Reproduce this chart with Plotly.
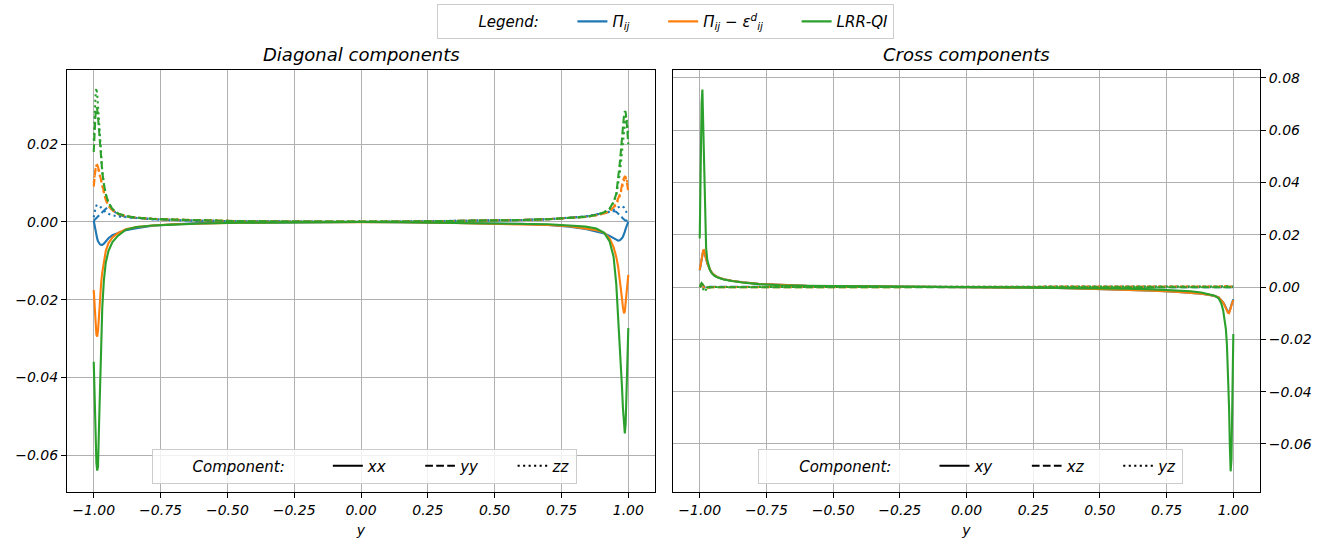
import plotly.graph_objects as go

# ---------------- data ----------------
y_grid = [-1.0, -0.997, -0.993, -0.99, -0.987, -0.984, -0.98, -0.976, -0.972, -0.968,
          -0.962, -0.955, -0.945, -0.93, -0.91, -0.88, -0.84, -0.78, -0.7, -0.6,
          -0.45, -0.3, -0.15, 0.0,
          0.15, 0.3, 0.45, 0.6, 0.7, 0.78, 0.84, 0.88, 0.91, 0.93, 0.945, 0.955,
          0.962, 0.968, 0.972, 0.976, 0.98, 0.984, 0.987, 0.99, 0.993, 0.997, 1.0]

# Diagonal components
pi_xx = [0.0003, -0.0010, -0.0025, -0.0035, -0.0043, -0.0050, -0.0055, -0.0058, -0.0059, -0.0059,
         -0.0056, -0.0050, -0.0042, -0.0034, -0.0028, -0.0021, -0.0016, -0.0010, -0.0006, -0.0003,
         -0.0002, -0.0001, -0.00005, 0.0,
         -0.0001, -0.0002, -0.0003, -0.0005, -0.0008, -0.0012, -0.0018, -0.0024, -0.0030, -0.0036,
         -0.0042, -0.0047, -0.0048, -0.0047, -0.0045, -0.0042, -0.0038, -0.0032, -0.0025, -0.0018,
         -0.0010, -0.0003, 0.0001]
pi_yy = [0.0003, 0.0005, 0.0008, 0.0010, 0.0012, 0.0014, 0.0017, 0.0020, 0.0023, 0.0026,
         0.0030, 0.0034, 0.0038, 0.0032, 0.0019, 0.0013, 0.0010, 0.0007, 0.0005, 0.0003,
         0.0002, 0.0001, 0.00005, 0.0,
         0.0001, 0.0002, 0.0003, 0.0005, 0.0007, 0.0010, 0.0014, 0.0019, 0.0024, 0.0027,
         0.0028, 0.0026, 0.0022, 0.0018, 0.0015, 0.0012, 0.0009, 0.0006, 0.0004, 0.0003,
         0.0003, 0.0004, 0.0005]
pi_zz = [0.0012, 0.0025, 0.0037, 0.0042, 0.0044, 0.0044, 0.0042, 0.0039, 0.0036, 0.0033,
         0.0029, 0.0025, 0.0021, 0.0017, 0.0014, 0.0012, 0.0010, 0.0007, 0.0005, 0.0003,
         0.0002, 0.0001, 0.00005, 0.0,
         0.0001, 0.0002, 0.0003, 0.0005, 0.0007, 0.0010, 0.0014, 0.0019, 0.0023, 0.0027,
         0.0031, 0.0035, 0.0038, 0.0040, 0.0041, 0.0041, 0.0040, 0.0037, 0.0033, 0.0028,
         0.0023, 0.0019, 0.0016]

pid_xx = [-0.0175, -0.021, -0.026, -0.029, -0.0295, -0.028, -0.024, -0.019, -0.0155, -0.013,
          -0.010, -0.0075, -0.0055, -0.0040, -0.0029, -0.0019, -0.0013, -0.0009, -0.0006, -0.0004,
          -0.0002, -0.0001, -0.00005, 0.0,
          -0.0001, -0.0002, -0.0004, -0.0006, -0.0008, -0.0011, -0.0016, -0.0021, -0.0028, -0.0042,
          -0.0065, -0.0090, -0.0115, -0.0145, -0.0170, -0.0195, -0.0220, -0.0235, -0.0230, -0.0210,
          -0.0180, -0.0150, -0.0136]
pid_yy = [0.0091, 0.0115, 0.0138, 0.0146, 0.0147, 0.0142, 0.0130, 0.0115, 0.0100, 0.0088,
          0.0072, 0.0057, 0.0042, 0.0030, 0.0021, 0.0015, 0.0011, 0.0008, 0.0006, 0.0004,
          0.0002, 0.0001, 0.00005, 0.0,
          0.0001, 0.0002, 0.0003, 0.0005, 0.0007, 0.0010, 0.0013, 0.0017, 0.0022, 0.0028,
          0.0038, 0.0048, 0.0058, 0.0070, 0.0080, 0.0095, 0.0106, 0.0114, 0.0117, 0.0116,
          0.0108, 0.0092, 0.0075]
pid_zz = [0.0100, 0.0125, 0.0140, 0.0145, 0.0143, 0.0138, 0.0127, 0.0113, 0.0099, 0.0087,
          0.0071, 0.0056, 0.0042, 0.0030, 0.0021, 0.0015, 0.0011, 0.0008, 0.0006, 0.0004,
          0.0002, 0.0001, 0.00005, 0.0,
          0.0001, 0.0002, 0.0003, 0.0005, 0.0007, 0.0010, 0.0013, 0.0017, 0.0022, 0.0028,
          0.0036, 0.0045, 0.0055, 0.0066, 0.0076, 0.0088, 0.0099, 0.0107, 0.0111, 0.0112,
          0.0109, 0.0102, 0.0095]

lrr_xx = [-0.036, -0.045, -0.056, -0.062, -0.064, -0.063, -0.052, -0.040, -0.030, -0.022,
          -0.015, -0.0105, -0.0075, -0.0052, -0.0036, -0.0020, -0.0013, -0.0009, -0.0007, -0.0004,
          -0.0002, -0.0001, -0.00005, 0.0,
          -0.0001, -0.0002, -0.0003, -0.0005, -0.0006, -0.0009, -0.0012, -0.0017, -0.0028, -0.0050,
          -0.0090, -0.0160, -0.0240, -0.0310, -0.0360, -0.0420, -0.0480, -0.0530, -0.0544, -0.0520,
          -0.0450, -0.0350, -0.0273]
lrr_yy = [0.018, 0.024, 0.028, 0.0295, 0.029, 0.027, 0.023, 0.019, 0.0155, 0.0128,
          0.0098, 0.0072, 0.0050, 0.0033, 0.0022, 0.0015, 0.0011, 0.0008, 0.0006, 0.0004,
          0.0002, 0.0001, 0.00005, 0.0,
          0.0001, 0.0002, 0.0003, 0.0005, 0.0007, 0.0010, 0.0013, 0.0018, 0.0025, 0.0034,
          0.0052, 0.0072, 0.0110, 0.0150, 0.0180, 0.0215, 0.0250, 0.0275, 0.0285, 0.0283,
          0.0265, 0.0230, 0.0200]
lrr_zz = [0.021, 0.028, 0.033, 0.0345, 0.033, 0.030, 0.025, 0.020, 0.016, 0.013,
          0.0098, 0.0072, 0.0050, 0.0033, 0.0022, 0.0015, 0.0011, 0.0008, 0.0006, 0.0004,
          0.0002, 0.0001, 0.00005, 0.0,
          0.0001, 0.0002, 0.0003, 0.0005, 0.0007, 0.0010, 0.0013, 0.0018, 0.0025, 0.0034,
          0.0050, 0.0068, 0.0095, 0.0125, 0.0150, 0.0180, 0.0215, 0.0245, 0.0262, 0.0272,
          0.0270, 0.0250, 0.0225]

# Cross components
pi_xy = [0.0064, 0.0084, 0.0113, 0.0131, 0.0138, 0.0139, 0.0127, 0.0107, 0.0091, 0.0079,
         0.0067, 0.0055, 0.0045, 0.0036, 0.0030, 0.0024, 0.0018, 0.0012, 0.0008, 0.0005,
         0.0003, 0.0002, 0.0001, 0.0,
         -0.0001, -0.0003, -0.0006, -0.0010, -0.0014, -0.0018, -0.0022, -0.0026, -0.0030, -0.0034,
         -0.0040, -0.0049, -0.0059, -0.0070, -0.0080, -0.0089, -0.0096, -0.0097, -0.0090, -0.0079,
         -0.0067, -0.0055, -0.0047]
pi_xz = [0.0, 0.0006, 0.0010, 0.0008, 0.0004, 0.0001, -0.0001, -0.0001, 0.0, 0.0,
         0.0001, 0.0001, 0.0001, 0.0001, 0.0001, 0.0, 0.0, 0.0, 0.0, 0.0,
         0.0, 0.0, 0.0, 0.0,
         0.0, 0.0, 0.0, 0.0, 0.0, 0.0, 0.0, 0.0, 0.0, 0.0,
         0.0001, 0.0001, 0.0001, 0.0001, 0.0001, 0.0001, 0.0001, 0.0001, 0.0, 0.0,
         -0.0001, -0.0001, -0.0001]
pi_yz = [0.0, 0.0004, 0.0008, 0.0006, 0.0001, -0.0004, -0.0006, -0.0005, -0.0003, -0.0002,
         -0.0001, 0.0, 0.0, 0.0, 0.0, 0.0, 0.0, 0.0, 0.0, 0.0,
         0.0, 0.0, 0.0, 0.0,
         0.0, 0.0, 0.0, 0.0, 0.0, 0.0, 0.0, 0.0, 0.0, 0.0001,
         0.0001, 0.0002, 0.0002, 0.0002, 0.0003, 0.0003, 0.0003, 0.0003, 0.0003, 0.0002,
         0.0002, 0.0001, 0.0001]

pid_xy = [0.0065, 0.0085, 0.0115, 0.0133, 0.0140, 0.0141, 0.0128, 0.0108, 0.0092, 0.0080,
          0.0068, 0.0056, 0.0045, 0.0036, 0.0030, 0.0024, 0.0018, 0.0012, 0.0008, 0.0005,
          0.0003, 0.0002, 0.0001, 0.0,
          -0.0001, -0.0003, -0.0006, -0.0010, -0.0014, -0.0018, -0.0022, -0.0026, -0.0030, -0.0034,
          -0.0040, -0.0050, -0.0060, -0.0072, -0.0082, -0.0092, -0.0099, -0.0100, -0.0093, -0.0082,
          -0.0070, -0.0058, -0.0050]
pid_xz = [0.0, 0.0008, 0.0013, 0.0010, 0.0005, 0.0001, -0.0001, -0.0001, 0.0, 0.0001,
          0.0001, 0.0001, 0.0001, 0.0001, 0.0001, 0.0, 0.0, 0.0, 0.0, 0.0,
          0.0, 0.0, 0.0, 0.0,
          0.0, 0.0, 0.0, 0.0, 0.0, 0.0, 0.0, 0.0, 0.0, 0.0001,
          0.0001, 0.0001, 0.0001, 0.0002, 0.0002, 0.0002, 0.0002, 0.0001, 0.0001, 0.0,
          0.0, -0.0001, -0.0001]
pid_yz = [0.0, 0.0005, 0.0009, 0.0006, 0.0001, -0.0005, -0.0008, -0.0006, -0.0004, -0.0002,
          -0.0001, 0.0, 0.0, 0.0, 0.0, 0.0, 0.0, 0.0, 0.0, 0.0,
          0.0, 0.0, 0.0, 0.0,
          0.0, 0.0, 0.0, 0.0, 0.0, 0.0, 0.0, 0.0001, 0.0001, 0.0002,
          0.0002, 0.0003, 0.0003, 0.0004, 0.0004, 0.0004, 0.0004, 0.0004, 0.0004, 0.0003,
          0.0003, 0.0002, 0.0002]

lrr_xy = [0.0186, 0.045, 0.070, 0.0755, 0.062, 0.045, 0.029, 0.015, 0.0105, 0.0085,
          0.0066, 0.0053, 0.0043, 0.0035, 0.0029, 0.0023, 0.0017, 0.0011, 0.0007, 0.0005,
          0.0003, 0.0002, 0.0001, 0.0,
          -0.0001, -0.0002, -0.0004, -0.0006, -0.0009, -0.0012, -0.0016, -0.0021, -0.0027, -0.0033,
          -0.0043, -0.0063, -0.0090, -0.0125, -0.0160, -0.0220, -0.0310, -0.0460, -0.0610, -0.0705,
          -0.0660, -0.0400, -0.0180]
lrr_xz = [0.0, 0.0009, 0.0015, 0.0012, 0.0006, 0.0002, -0.0001, -0.0001, 0.0, 0.0001,
          0.0001, 0.0001, 0.0001, 0.0001, 0.0001, 0.0, 0.0, 0.0, 0.0, 0.0,
          0.0, 0.0, 0.0, 0.0,
          0.0, 0.0, 0.0, 0.0, 0.0, 0.0, 0.0, 0.0, 0.0, 0.0001,
          0.0001, 0.0001, 0.0001, 0.0001, 0.0001, 0.0001, 0.0001, 0.0, 0.0, 0.0,
          -0.0001, -0.0001, -0.0001]
lrr_yz = [0.0, 0.0004, 0.0006, 0.0, -0.0010, -0.0018, -0.0015, -0.0008, -0.0004, -0.0002,
          -0.0001, 0.0, 0.0, 0.0, 0.0, 0.0, 0.0, 0.0, 0.0, 0.0,
          0.0, 0.0, 0.0, 0.0,
          0.0, 0.0, 0.0, 0.0, 0.0, 0.0, 0.0, 0.0001, 0.0001, 0.0002,
          0.0002, 0.0003, 0.0003, 0.0003, 0.0003, 0.0004, 0.0004, 0.0004, 0.0003, 0.0003,
          0.0002, 0.0002, 0.0001]

series_names = ["Π<sub>ij</sub>", "Π<sub>ij</sub> − ε<sup>d</sup><sub>ij</sub>", "LRR-QI"]
diag_labels = ["xx", "yy", "zz"]
cross_labels = ["xy", "xz", "yz"]
x_ticks = [-1.0, -0.75, -0.5, -0.25, 0.0, 0.25, 0.5, 0.75, 1.0]

# ---------------- styling ----------------
FONT = "DejaVu Sans"
COLORS = ["#1f77b4", "#ff7f0e", "#2ca02c"]
DASHES = ["solid", "7.7px,3.3px", "2.1px,3.4px"]
LW = 2.1
PAD = "\u00a0" * 6   # column spacing between legend entries
PAD_HEAD = "\u00a0" * 8

diag_data = [[pi_xx, pi_yy, pi_zz], [pid_xx, pid_yy, pid_zz], [lrr_xx, lrr_yy, lrr_zz]]
cross_data = [[pi_xy, pi_xz, pi_yz], [pid_xy, pid_xz, pid_yz], [lrr_xy, lrr_xz, lrr_yz]]

fig = go.Figure()

for color, comps in zip(COLORS, diag_data):
    for vals, dash in zip(comps, DASHES):
        fig.add_trace(go.Scatter(x=y_grid, y=vals, mode="lines",
                                 line=dict(color=color, width=LW, dash=dash),
                                 showlegend=False, hoverinfo="skip",
                                 xaxis="x", yaxis="y"))
for color, comps in zip(COLORS, cross_data):
    for vals, dash in zip(comps, DASHES):
        fig.add_trace(go.Scatter(x=y_grid, y=vals, mode="lines",
                                 line=dict(color=color, width=LW, dash=dash),
                                 showlegend=False, hoverinfo="skip",
                                 xaxis="x2", yaxis="y2"))

# legend entries (top: series colours)
fig.add_trace(go.Scatter(x=[None], y=[None], mode="lines", name="Legend:" + PAD,
                         line=dict(color="rgba(0,0,0,0)", width=LW), legend="legend"))
for i, (name, color) in enumerate(zip(series_names, COLORS)):
    fig.add_trace(go.Scatter(x=[None], y=[None], mode="lines",
                             name=name + (PAD if i < len(series_names) - 1 else ""),
                             line=dict(color=color, width=LW), legend="legend"))

# bottom legends: component line styles
for leg, labels, xa, ya in (("legend2", diag_labels, "x", "y"),
                            ("legend3", cross_labels, "x2", "y2")):
    fig.add_trace(go.Scatter(x=[None], y=[None], mode="lines", name="Component:" + PAD_HEAD,
                             line=dict(color="rgba(0,0,0,0)", width=LW), legend=leg,
                             xaxis=xa, yaxis=ya))
    for i, (lab, dash) in enumerate(zip(labels, DASHES)):
        fig.add_trace(go.Scatter(x=[None], y=[None], mode="lines",
                                 name=lab + (PAD if i < len(labels) - 1 else ""),
                                 line=dict(color="black", width=LW, dash=dash), legend=leg,
                                 xaxis=xa, yaxis=ya))

tickfont = dict(family=FONT, size=14, color="black", style="italic")
axis_common = dict(showline=True, linecolor="black", linewidth=1.1, mirror=True,
                   ticks="outside", ticklen=5, tickwidth=1.1, tickcolor="black",
                   showgrid=True, gridcolor="#b0b0b0", gridwidth=1.1, zeroline=False,
                   tickfont=tickfont, tickformat=".2f", automargin=False)

legend_common = dict(orientation="h", bgcolor="rgba(255,255,255,0.82)", bordercolor="#cccccc",
                     borderwidth=1, font=dict(family=FONT, size=15, color="black", style="italic"),
                     itemclick=False, itemdoubleclick=False, tracegroupgap=0)

xtitle = dict(text="y", font=dict(family=FONT, size=14, style="italic"), standoff=8)

fig.update_layout(
    width=1338, height=541,
    margin=dict(l=67, r=78, t=70, b=49, autoexpand=False),
    paper_bgcolor="white", plot_bgcolor="white",
    font=dict(family=FONT, size=14, color="black"),
    xaxis=dict(domain=[0, 0.4929], range=[-1.1, 1.1], tickvals=x_ticks, anchor="y",
               title=xtitle, **axis_common),
    yaxis=dict(range=[-0.0695, 0.0391], dtick=0.02, tick0=0, anchor="x", **axis_common),
    xaxis2=dict(domain=[0.508, 1], range=[-1.1, 1.1], tickvals=x_ticks, anchor="y2",
                title=xtitle, **axis_common),
    yaxis2=dict(range=[-0.0784, 0.083], dtick=0.02, tick0=0, anchor="x2", side="right",
                **axis_common),
    legend=dict(x=0.502, xanchor="center", y=1.156, yanchor="top", **legend_common),
    legend2=dict(x=0.249, xanchor="center", y=0.02, yanchor="bottom", **legend_common),
    legend3=dict(x=0.7575, xanchor="center", y=0.02, yanchor="bottom", **legend_common),
    annotations=[
        dict(text="Diagonal components", x=0.24645, y=1, xref="paper", yref="paper",
             xanchor="center", yanchor="bottom", yshift=3, showarrow=False,
             font=dict(family=FONT, size=18, color="black", style="italic")),
        dict(text="Cross components", x=0.754, y=1, xref="paper", yref="paper",
             xanchor="center", yanchor="bottom", yshift=3, showarrow=False,
             font=dict(family=FONT, size=18, color="black", style="italic")),
    ],
)

fig.write_html("out.html")
